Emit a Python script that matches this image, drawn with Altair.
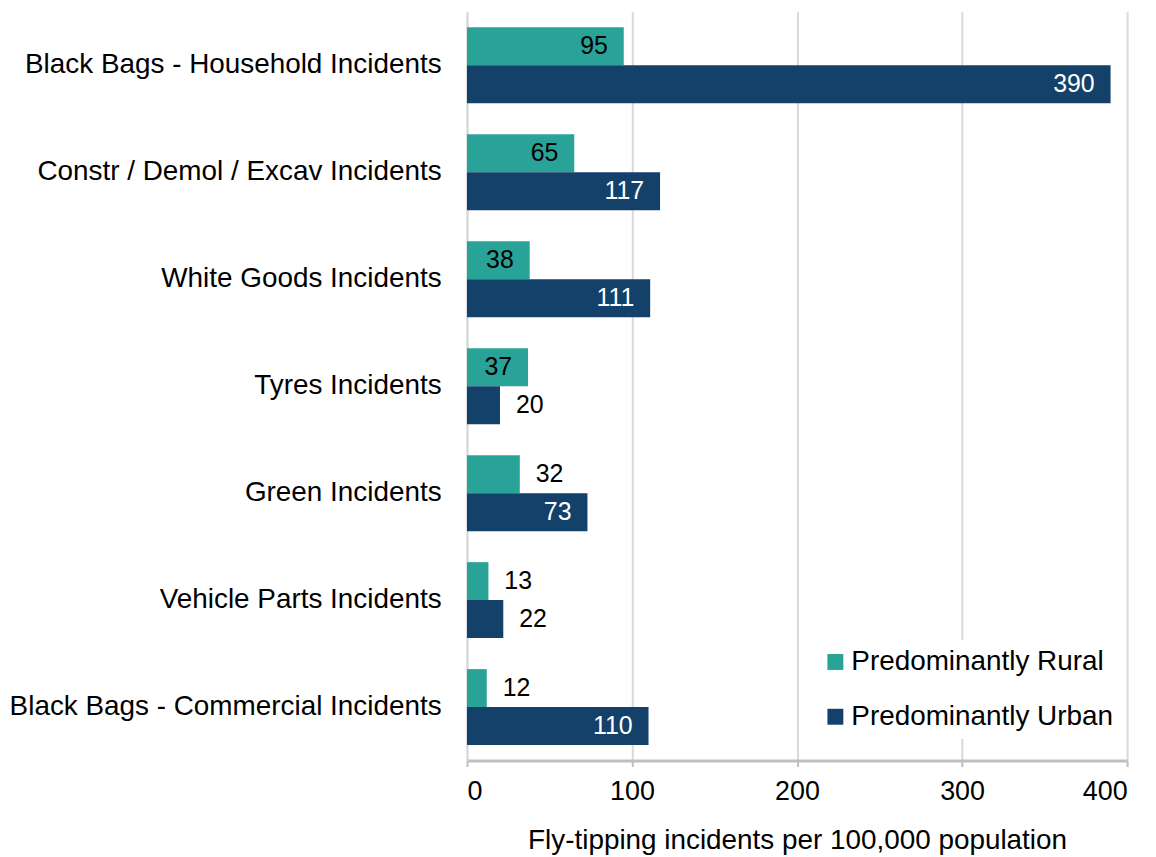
import altair as alt
import pandas as pd

categories = [
    "Black Bags - Household Incidents",
    "Constr / Demol / Excav Incidents",
    "White Goods Incidents",
    "Tyres Incidents",
    "Green Incidents",
    "Vehicle Parts Incidents",
    "Black Bags - Commercial Incidents",
]
series_names = ["Predominantly Rural", "Predominantly Urban"]
rural = [95, 65, 38, 37, 32, 13, 12]
urban = [390, 117, 111, 20, 73, 22, 110]
colors = ["#29A398", "#134169"]
x_ticks = [0, 100, 200, 300, 400]

rows = []
for c, r, u in zip(categories, rural, urban):
    rows.append({"category": c, "series": series_names[0], "value": r})
    rows.append({"category": c, "series": series_names[1], "value": u})
df = pd.DataFrame(rows)

FONT = "Liberation Sans"

base = alt.Chart(df).encode(
    y=alt.Y(
        "category:N",
        sort=categories,
        title=None,
        scale=alt.Scale(paddingInner=0.29, paddingOuter=0.145),
        axis=alt.Axis(
            ticks=False,
            labelFontSize=28,
            labelColor="#000000",
            labelPadding=26,
            labelLimit=700,
            domainColor="#D9D9D9",
            domainWidth=2,
            grid=False,
        ),
    ),
    yOffset=alt.YOffset("series:N", sort=series_names),
    x=alt.X(
        "value:Q",
        title="Fly-tipping incidents per 100,000 population",
        scale=alt.Scale(domain=[0, 400], nice=False),
        axis=alt.Axis(
            values=x_ticks,
            labelFontSize=27,
            labelColor="#000000",
            titleFontSize=28,
            titleFontWeight="normal",
            titleColor="#000000",
            titlePadding=22,
            labelPadding=12,
            tickSize=6,
            tickColor="#BFBFBF",
            tickWidth=2,
            domainColor="#BFBFBF",
            domainWidth=3,
            gridColor="#D9D9D9",
            gridWidth=2,
        ),
    ),
)

bars = base.mark_bar().encode(
    color=alt.Color(
        "series:N",
        scale=alt.Scale(domain=series_names, range=colors),
        legend=alt.Legend(
            title=None,
            orient="none",
            legendX=348,
            legendY=631,
            padding=8,
            fillColor="white",
            symbolType="square",
            symbolSize=256,
            symbolStrokeWidth=0,
            labelFontSize=28,
            labelColor="#000000",
            labelLimit=600,
            labelOffset=2,
            rowPadding=27,
        ),
    )
)

inside = base.transform_filter(alt.datum.value >= 35).mark_text(
    align="right", baseline="middle", dx=-16, fontSize=25
).encode(
    text="value:Q",
    color=alt.condition(
        alt.datum.series == "Predominantly Urban",
        alt.value("white"),
        alt.value("black"),
    ),
)

outside = base.transform_filter(alt.datum.value < 35).mark_text(
    align="left", baseline="middle", dx=16, fontSize=25, color="black"
).encode(text="value:Q")

chart = (
    alt.layer(bars, inside, outside)
    .properties(
        width=663,
        height=752,
        padding={"left": 0, "top": 2, "right": 20, "bottom": 0},
    )
    .configure(font=FONT)
    .configure_view(stroke=None)
)

chart.save("out.html", embed_options={"renderer": "svg", "actions": False})
